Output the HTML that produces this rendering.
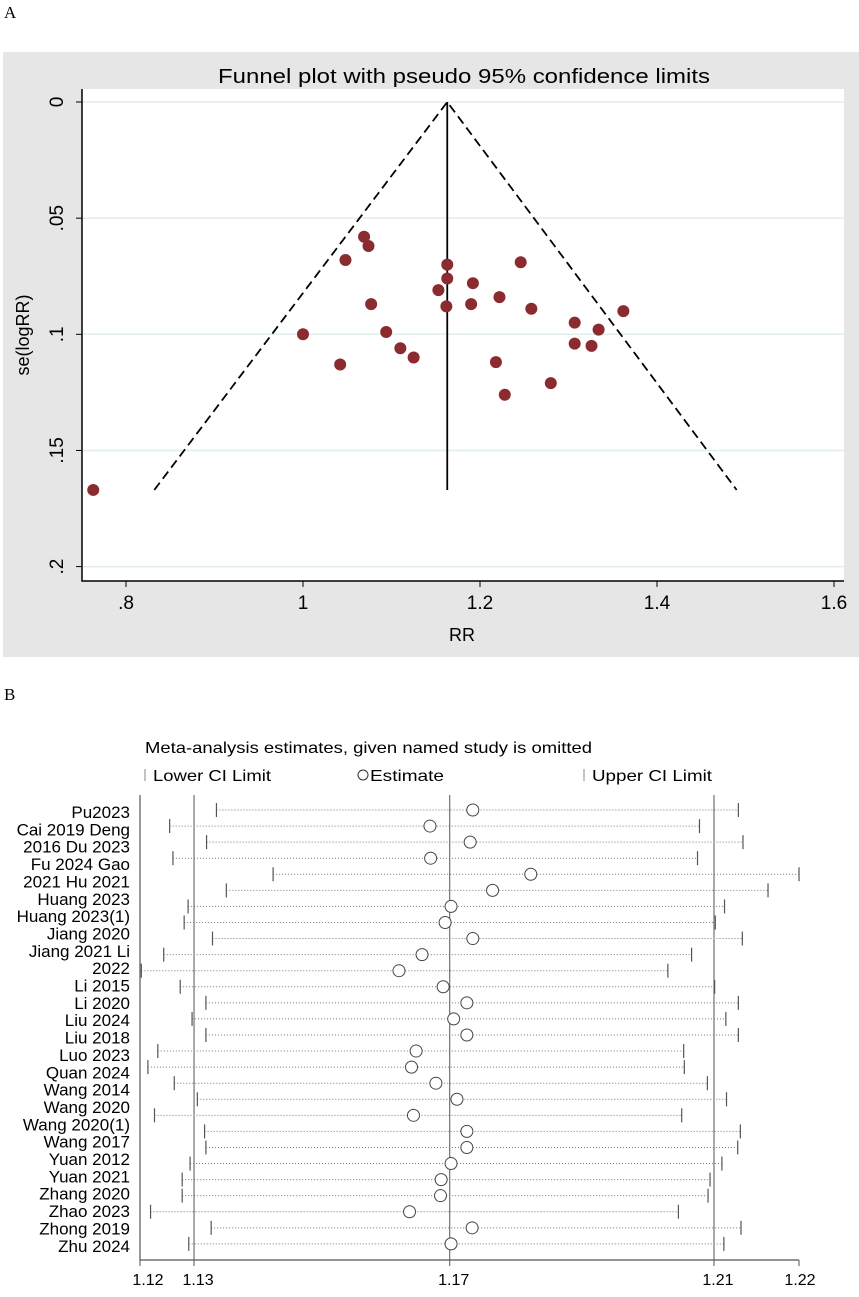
<!DOCTYPE html>
<html><head><meta charset="utf-8"><style>
body{margin:0;background:#fff}
svg{display:block;font-family:"Liberation Sans",Arial,sans-serif}
</style></head><body>
<svg id="s" width="859" height="1297" viewBox="0 0 859 1297" xmlns="http://www.w3.org/2000/svg">
<text x="4" y="18" font-family="Liberation Serif,serif" font-size="17">A</text>
<rect x="3" y="52" width="856" height="605" fill="#e6e6e6"/>
<rect x="82" y="89" width="762" height="492" fill="#fff"/>
<text x="218" y="83" font-size="20" textLength="492" lengthAdjust="spacingAndGlyphs">Funnel plot with pseudo 95% confidence limits</text>
<g id="ga"></g>
<text x="462" y="641" font-size="18" text-anchor="middle">RR</text>
<text transform="translate(29,335) rotate(-90)" font-size="18" text-anchor="middle">se(logRR)</text>
<text x="4" y="700" font-family="Liberation Serif,serif" font-size="17">B</text>
<text x="145" y="753" font-size="16" textLength="447" lengthAdjust="spacingAndGlyphs">Meta-analysis estimates, given named study is omitted</text>
<g>
<line x1="145" y1="769" x2="145" y2="781" stroke="#888" stroke-width="1"/>
<text x="153" y="781" font-size="16" textLength="118" lengthAdjust="spacingAndGlyphs">Lower CI Limit</text>
<circle cx="363" cy="775" r="5" fill="none" stroke="#333"/>
<text x="370" y="781" font-size="16" textLength="74" lengthAdjust="spacingAndGlyphs">Estimate</text>
<line x1="584" y1="769" x2="584" y2="781" stroke="#888" stroke-width="1"/>
<text x="592" y="781" font-size="16" textLength="120" lengthAdjust="spacingAndGlyphs">Upper CI Limit</text>
</g>
<g id="gb"></g>
</svg>
<script>
// Panel A data
const rrValues=[0.763,1.0,1.042,1.048,1.069,1.074,1.077,1.094,1.11,1.125,1.153,1.162,1.163,1.163,1.19,1.192,1.218,1.222,1.228,1.246,1.258,1.28,1.307,1.307,1.326,1.334,1.362];
const seValues=[0.167,0.100,0.113,0.068,0.058,0.062,0.087,0.099,0.106,0.110,0.081,0.088,0.070,0.076,0.087,0.078,0.112,0.084,0.126,0.069,0.089,0.121,0.095,0.104,0.105,0.098,0.090];
const pooledRR=[1.163];
const funnelLimits=[0.832,1.49];
const xTicksA=[0.8,1,1.2,1.4,1.6];
const xTickLabelsA=[".8","1","1.2","1.4","1.6"];
const yTicksA=[0,0.05,0.1,0.15,0.2];
const yTickLabelsA=["0",".05",".1",".15",".2"];
// Panel B data
const studies=["Pu2023","Cai 2019 Deng","2016 Du 2023","Fu 2024 Gao","2021 Hu 2021","Huang 2023","Huang 2023(1)","Jiang 2020","Jiang 2021 Li","2022","Li 2015","Li 2020","Liu 2024","Liu 2018","Luo 2023","Quan 2024","Wang 2014","Wang 2020","Wang 2020(1)","Wang 2017","Yuan 2012","Yuan 2021","Zhang 2020","Zhao 2023","Zhong 2019","Zhu 2024"];
const estimates=[1.1705,1.1640,1.1701,1.1641,1.1793,1.1735,1.1672,1.1663,1.1705,1.1628,1.1593,1.1660,1.1696,1.1676,1.1696,1.1619,1.1612,1.1649,1.1681,1.1615,1.1696,1.1696,1.1672,1.1657,1.1656,1.1609,1.1704,1.1672];
const lowerCI=[1.1316,1.1245,1.1301,1.1250,1.1402,1.1331,1.1273,1.1267,1.1310,1.1236,1.1202,1.1261,1.1300,1.1279,1.1300,1.1227,1.1212,1.1252,1.1287,1.1222,1.1298,1.1300,1.1276,1.1264,1.1264,1.1216,1.1308,1.1274];
const upperCI=[1.2108,1.2049,1.2115,1.2046,1.2200,1.2153,1.2087,1.2073,1.2114,1.2037,1.2001,1.2072,1.2108,1.2089,1.2108,1.2025,1.2026,1.2061,1.2090,1.2022,1.2111,1.2107,1.2083,1.2065,1.2062,1.2017,1.2112,1.2086];
const refLines=[1.1282,1.1670,1.2071];
const refLabels=["1.13","1.17","1.21"];
const axisEnds=[1.12,1.22];
const axisEndLabels=["1.12","1.22"];

const NS="http://www.w3.org/2000/svg";
function mk(parent,tag,attrs,text){const e=document.createElementNS(NS,tag);for(const k in attrs)e.setAttribute(k,attrs[k]);if(text!==undefined)e.textContent=text;parent.appendChild(e);return e;}

// Panel A
const ga=document.getElementById('ga');
const xA=v=>303+(v-1)*885;
const yA=v=>102+v*2323;
yTicksA.forEach((t,i)=>{
  const g=mk(ga,'line',{x1:82,x2:844,y1:yA(t),y2:yA(t),stroke:'#e2eeee','stroke-width':1.5});
  
  
  const tk=mk(ga,'line',{x1:76,x2:82,y1:yA(t),y2:yA(t),stroke:'#000'});
  
  
  const tl=mk(ga,'text',{transform:`translate(63,${yA(t)}) rotate(-90)`,'font-size':19,'text-anchor':'middle'},yTickLabelsA[i]);
  
  
});
xTicksA.forEach((t,i)=>{
  const tk=mk(ga,'line',{x1:xA(t),x2:xA(t),y1:581,y2:587,stroke:'#000'});
  
  
  const tl=mk(ga,'text',{x:xA(t),y:609,'font-size':19,'text-anchor':'middle'},xTickLabelsA[i]);
  
  
});
const ax=mk(ga,'path',{d:'M82,89V581H844',fill:'none',stroke:'#000','stroke-width':1.5});


const seMax=0.167;
const fl=mk(ga,'path',{d:`M${xA(funnelLimits[0])},${yA(seMax)}L${xA(pooledRR[0])},${yA(0)}L${xA(funnelLimits[1])},${yA(seMax)}`,fill:'none',stroke:'#000','stroke-width':1.8,'stroke-dasharray':'9,5'});


const pl=mk(ga,'line',{x1:xA(pooledRR[0]),x2:xA(pooledRR[0]),y1:yA(0),y2:yA(seMax),stroke:'#000','stroke-width':1.8});


rrValues.forEach((v,i)=>{
  const c=mk(ga,'ellipse',{cx:xA(v),cy:yA(seValues[i]),rx:6,ry:6,fill:'#8b2b2f'});
  
  
});

// Panel B
const gb=document.getElementById('gb');
const xB=v=>140+(v-1.12)*6590;
const rowY=i=>810+i*16.07;
const labY=i=>812+i*17.35;
refLines.forEach((v,i)=>{
  const l=mk(gb,'line',{x1:xB(v),x2:xB(v),y1:795,y2:1260,stroke:'#555','stroke-width':1});
  
  
  const tk=mk(gb,'line',{x1:xB(v),x2:xB(v),y1:1260,y2:1266,stroke:'#555'});
  
  
  const t=mk(gb,'text',{x:xB(v)+4,y:1285,'font-size':16,'text-anchor':'middle'},refLabels[i]);
  
  
});
axisEnds.forEach((v,i)=>{
  const tk=mk(gb,'line',{x1:xB(v),x2:xB(v),y1:1260,y2:1266,stroke:'#555'});
  
  
  const t=mk(gb,'text',{x:xB(v)+(i?1:8),y:1285,'font-size':16,'text-anchor':'middle'},axisEndLabels[i]);
  
  
});
const axb=mk(gb,'path',{d:`M140,795V1260H${xB(1.22)}`,fill:'none',stroke:'#555','stroke-width':1.2});


studies.forEach((s,i)=>{
  const t=mk(gb,'text',{x:130,y:labY(i)+6,'font-size':17,'text-anchor':'end'},s);
  
  
});
estimates.forEach((v,i)=>{
  const y=rowY(i);
  const d=mk(gb,'line',{x1:xB(lowerCI[i]),x2:xB(upperCI[i]),y1:y,y2:y,stroke:'#777','stroke-width':1,'stroke-dasharray':'1,2'});
  
  
  const lo=mk(gb,'line',{x1:xB(lowerCI[i]),x2:xB(lowerCI[i]),y1:y-7,y2:y+7,stroke:'#555','stroke-width':1.2});
  
  
  const hi=mk(gb,'line',{x1:xB(upperCI[i]),x2:xB(upperCI[i]),y1:y-7,y2:y+7,stroke:'#555','stroke-width':1.2});
  
  
  const c=mk(gb,'circle',{cx:xB(v),cy:y,r:6,fill:'#fff',stroke:'#444','stroke-width':1});
  
  
});
</script>
</body></html>
